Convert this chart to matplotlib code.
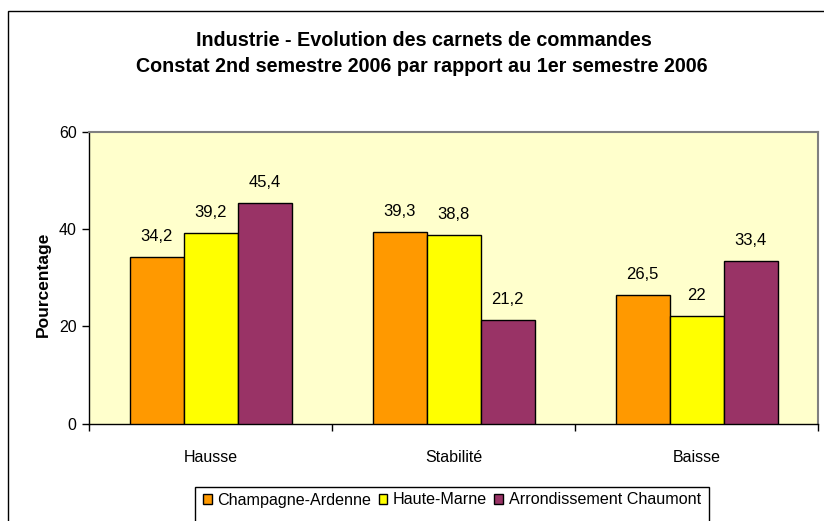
import matplotlib
matplotlib.use("Agg")
import matplotlib.pyplot as plt
import numpy as np
from matplotlib.patches import Rectangle, Patch

# ── data ──
CATEGORIES = ["Hausse", "Stabilité", "Baisse"]
SERIES     = ["Champagne-Ardenne", "Haute-Marne", "Arrondissement Chaumont"]
CHAMPAGNE  = [34.2, 39.3, 26.5]
HAUTE      = [39.2, 38.8, 22.0]
CHAUMONT   = [45.4, 21.2, 33.4]
Y_TICKS    = [0, 20, 40, 60]

COLORS = ["#FF9900", "#FFFF00", "#993366"]
PLOT_BG = "#FFFFCC"
FONT = ["Liberation Sans", "DejaVu Sans"]

plt.rcParams["font.family"] = FONT

W, H = 824, 521
fig = plt.figure(figsize=(W / 100, H / 100), dpi=100, facecolor="white")

# outer chart border (cropped on right/bottom in the original)
fig.patches.append(Rectangle((8 / W, -0.1), 2, 1.1 - 10.5 / H,
                             transform=fig.transFigure, fill=False,
                             edgecolor="black", linewidth=1.0))

ax = fig.add_axes([89 / W, (H - 423.5) / H, (818 - 89) / W, (423.5 - 131.5) / H])
ax.set_facecolor(PLOT_BG)

x = np.arange(len(CATEGORIES))
w = 1 / 4.5   # Excel gap width 150%
for i, (vals, col) in enumerate(zip([CHAMPAGNE, HAUTE, CHAUMONT], COLORS)):
    bars = ax.bar(x + (i - 1) * w, vals, width=w, color=col, edgecolor="black",
                  linewidth=1.0, zorder=3)
    for b, v in zip(bars, vals):
        lab = f"{v:g}".replace(".", ",")
        ax.annotate(lab, (b.get_x() + b.get_width() / 2, v),
                    xytext=(0, 16), textcoords="offset pixels",
                    ha="center", va="baseline", fontsize=12)

ax.set_xlim(-0.5, 2.5)
ax.set_ylim(0, 60)
ax.set_yticks(Y_TICKS)
ax.set_yticklabels([str(t) for t in Y_TICKS], fontsize=11.5)
ax.tick_params(axis="y", direction="out", length=5, width=1, pad=4)

ax.set_xticks(x)
ax.set_xticklabels(CATEGORIES, fontsize=11.5)
ax.tick_params(axis="x", which="major", length=0, pad=19)
ax.set_xticks([-0.5, 0.5, 1.5, 2.5], minor=True)
ax.tick_params(axis="x", which="minor", direction="out", length=5, width=1)

for s in ["left", "bottom"]:
    ax.spines[s].set_color("black")
    ax.spines[s].set_linewidth(1.0)
for s in ["top", "right"]:
    ax.spines[s].set_color("#808080")
    ax.spines[s].set_linewidth(1.5)

fig.text(43 / W, (H - 284) / H, "Pourcentage", rotation=90, ha="center", va="center",
         fontsize=12.5, fontweight="bold")

fig.text(424 / W, (H - 40) / H, "Industrie - Evolution des carnets de commandes",
         ha="center", va="center", fontsize=14.2, fontweight="bold")
fig.text(422 / W, (H - 66) / H, "Constat 2nd semestre 2006 par rapport au 1er semestre 2006",
         ha="center", va="center", fontsize=14.2, fontweight="bold")

# legend box (cropped at the bottom in the original)
fig.patches.append(Rectangle((195 / W, -0.1), (709 - 195) / W, 0.1 + (H - 487) / H,
                             transform=fig.transFigure, fill=False,
                             edgecolor="black", linewidth=1.0))
handles = [Patch(facecolor=c, edgecolor="black", linewidth=1.0) for c in COLORS]
fig.legend(handles, SERIES, loc="center", bbox_to_anchor=(452 / W, (H - 500) / H),
           ncol=3, frameon=False, fontsize=11.6, handlelength=0.55, handleheight=0.6,
           handletextpad=0.35, columnspacing=0.45, borderpad=0)

fig.savefig("out.png", dpi=100, facecolor="white")
